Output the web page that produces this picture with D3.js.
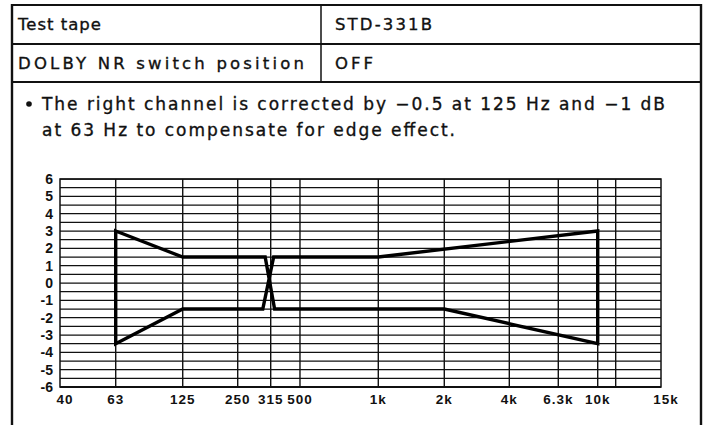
<!DOCTYPE html>
<html>
<head>
<meta charset="utf-8">
<script src="https://cdn.jsdelivr.net/npm/d3@7"></script>
<style>
  html, body { margin: 0; padding: 0; background: #fff; }
  svg { display: block; }
  text { font-family: "Liberation Sans", Arial, Helvetica, sans-serif; fill: #111; }
  text.body { font-family: "DejaVu Sans", "Liberation Sans", sans-serif; stroke: #111; stroke-width: 0.35; }
</style>
</head>
<body>
<svg id="chart" width="710" height="425"></svg>
<script>
// Header table contents
const tableRows = [
  ["Test tape", "STD-331B"],
  ["DOLBY NR switch position", "OFF"]
];
const noteLines = [
  "The right channel is corrected by \u22120.5 at 125 Hz and \u22121 dB",
  "at 63 Hz to compensate for edge effect."
];

// Frequency axis (Hz): labelled ticks and grid columns
const freqTicks = [40, 63, 125, 250, 315, 500, 1000, 2000, 4000, 6300, 10000, 15000];
const freqLabels = ["40", "63", "125", "250", "315", "500", "1k", "2k", "4k", "6.3k", "10k", "15k"];
const gridFreqs = [63, 125, 250, 315, 500, 1000, 2000, 4000, 6300, 10000, 12500];

// Level axis (dB)
const dbTicks = [6, 5, 4, 3, 2, 1, 0, -1, -2, -3, -4, -5, -6];
const dbLabels = ["6", "5", "4", "3", "2", "1", "0", "-1", "-2", "-3", "-4", "-5", "-6"];

// Tolerance outline (closed): frequency in Hz, level in dB
const limitFreq = [63, 125, 303, 335, 2000, 10000, 10000, 1000, 330, 298, 125, 63];
const limitDb   = [3, 1.5, 1.5, -1.5, -1.5, -3.5, 3, 1.5, 1.5, -1.5, -1.5, -3.5];

const svg = d3.select("#chart");

// ---- header table ----
const T = { left: 12, right: 701, top: 5, row1: 44, row2: 82, split: 321, bottom: 425 };
const tbl = svg.append("g").attr("stroke", "#111").attr("fill", "none");
tbl.append("line").attr("x1", T.left).attr("x2", T.right).attr("y1", T.top).attr("y2", T.top).attr("stroke-width", 2.2);
tbl.append("line").attr("x1", T.left).attr("x2", T.right).attr("y1", T.row1).attr("y2", T.row1).attr("stroke-width", 1.8);
tbl.append("line").attr("x1", T.left).attr("x2", T.right).attr("y1", T.row2).attr("y2", T.row2).attr("stroke-width", 1.8);
tbl.append("line").attr("x1", T.left).attr("x2", T.left).attr("y1", T.top - 1).attr("y2", T.bottom).attr("stroke-width", 2.4);
tbl.append("line").attr("x1", T.right).attr("x2", T.right).attr("y1", T.top - 1).attr("y2", T.bottom).attr("stroke-width", 2.4);
tbl.append("line").attr("x1", T.split).attr("x2", T.split).attr("y1", T.top).attr("y2", T.row2).attr("stroke-width", 1.5);

const rowBase = [30, 69];
const cellWidth = [[83, 97], [286, 38]];
tableRows.forEach((r, i) => {
  svg.append("text").attr("class", "body").attr("x", 18).attr("y", rowBase[i])
    .attr("font-size", 16.5).attr("textLength", cellWidth[i][0]).attr("lengthAdjust", "spacing")
    .text(r[0]);
  svg.append("text").attr("class", "body").attr("x", 335).attr("y", rowBase[i])
    .attr("font-size", 16.5).attr("textLength", cellWidth[i][1]).attr("lengthAdjust", "spacing")
    .text(r[1]);
});

// note with bullet
svg.append("circle").attr("cx", 29).attr("cy", 104).attr("r", 2.8).attr("fill", "#111");
const noteBase = [110, 136];
const noteWidth = [623, 413];
noteLines.forEach((t, i) => {
  svg.append("text").attr("class", "body").attr("x", 42).attr("y", noteBase[i])
    .attr("font-size", 17).attr("textLength", noteWidth[i]).attr("lengthAdjust", "spacing")
    .text(t);
});

// ---- response chart ----
const P = { left: 60, right: 661, top: 179, bottom: 387 };
const W = P.right - P.left;

// The printed grid has uneven column widths, so the frequency scale is
// piecewise logarithmic between the grid columns.
const columnStops = [0, 0.0927, 0.2042, 0.2957, 0.3506, 0.3993, 0.5296, 0.6394, 0.7476, 0.8291, 0.8947, 0.9246, 1];
const x = d3.scaleLog()
  .domain([40, 63, 125, 250, 315, 500, 1000, 2000, 4000, 6300, 10000, 12500, 15000])
  .range(columnStops.map(f => P.left + f * W));

const y = d3.scaleLinear().domain([-6, 6]).range([P.bottom, P.top]);

const grid = svg.append("g").attr("stroke", "#111").attr("fill", "none");
// horizontal grid every 0.5 dB
d3.range(-6, 6.001, 0.5).forEach(v => {
  grid.append("line")
    .attr("x1", P.left).attr("x2", P.right)
    .attr("y1", y(v)).attr("y2", y(v))
    .attr("stroke-width", (v === -6) ? 1.9 : 1.25);
});
// vertical grid
gridFreqs.forEach(f => {
  grid.append("line")
    .attr("x1", x(f)).attr("x2", x(f))
    .attr("y1", P.top).attr("y2", P.bottom)
    .attr("stroke-width", 1.4);
});
// frame
grid.append("rect")
  .attr("x", P.left).attr("y", P.top).attr("width", W).attr("height", P.bottom - P.top)
  .attr("stroke-width", 1.5);

// y labels
svg.append("g").selectAll("text").data(dbTicks).join("text")
  .attr("x", 53).attr("y", d => y(d))
  .attr("dy", "0.36em").attr("text-anchor", "end")
  .attr("font-size", 14).attr("font-weight", "bold")
  .text((d, i) => dbLabels[i]);

// x labels (end labels sit just inside the frame corners)
const lastTick = freqTicks.length - 1;
svg.append("g").selectAll("text").data(freqTicks).join("text")
  .attr("x", d => x(d)).attr("y", 404)
  .attr("dx", (d, i) => (i === 0 || i === lastTick) ? 5 : 0)
  .attr("text-anchor", "middle")
  .attr("font-size", 13.5).attr("font-weight", "bold").attr("letter-spacing", 1)
  .text((d, i) => freqLabels[i]);

// tolerance outline
const pts = limitFreq.map((f, i) => [f, limitDb[i]]);
const outline = d3.line().x(d => x(d[0])).y(d => y(d[1])).curve(d3.curveLinearClosed);
svg.append("path")
  .attr("d", outline(pts))
  .attr("fill", "none").attr("stroke", "#000")
  .attr("stroke-width", 3.4).attr("stroke-linejoin", "miter");
</script>
</body>
</html>
